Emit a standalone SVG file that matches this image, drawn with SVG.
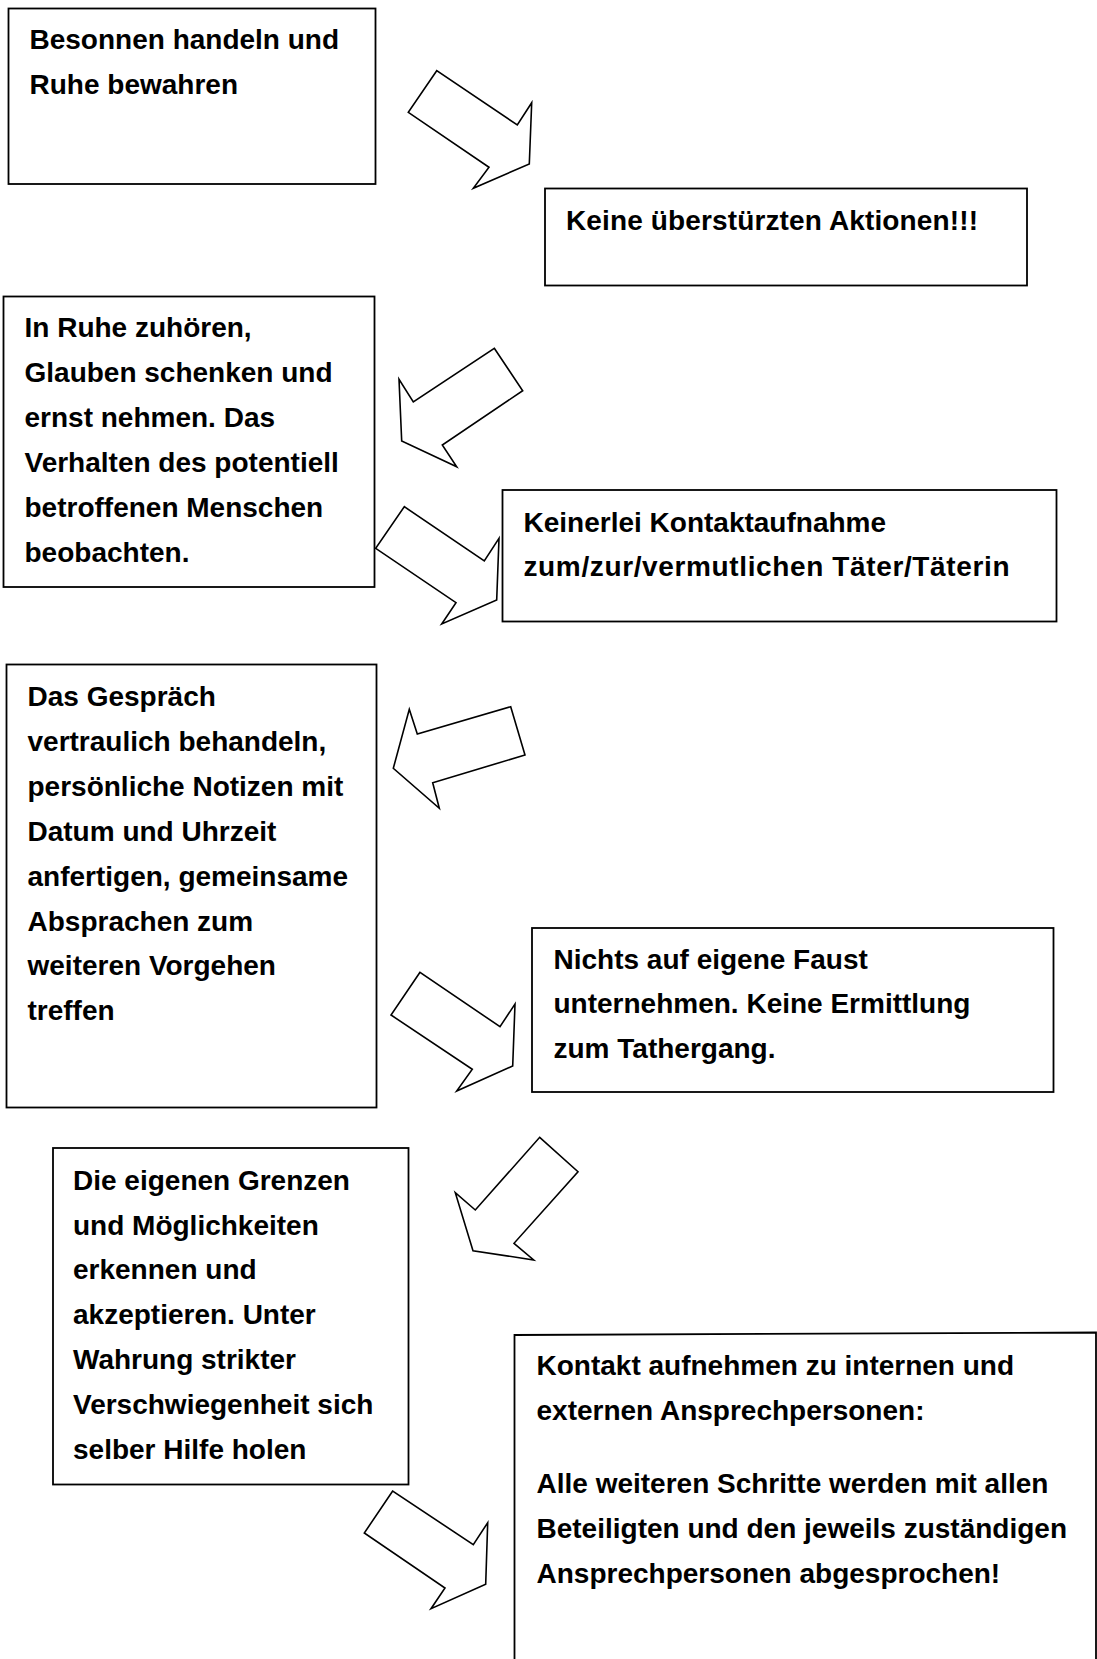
<svg xmlns="http://www.w3.org/2000/svg" width="1097" height="1659" viewBox="0 0 1097 1659">
<style>
.box{fill:#fff;stroke:#000;stroke-width:1.8}
.arr{fill:#fff;stroke:#000;stroke-width:1.6;stroke-linejoin:miter}
text{font-family:"Liberation Sans",Arial,sans-serif;font-weight:bold;font-size:28px;fill:#000}
</style>
<rect width="1097" height="1659" fill="#fff"/>
<g id="node1">
<rect class="box" x="8.5" y="8.5" width="367" height="175.5"/>
<text x="29.5" y="49">Besonnen handeln und</text>
<text x="29.5" y="93.9">Ruhe bewahren</text>
</g>
<g id="node2">
<rect class="box" x="545" y="188.5" width="482" height="97"/>
<text x="566" y="230" textLength="412" lengthAdjust="spacing">Keine überstürzten Aktionen!!!</text>
</g>
<g id="node3">
<rect class="box" x="3.5" y="296.5" width="371" height="290.5"/>
<text x="24.5" y="337">In Ruhe zuhören,</text>
<text x="24.5" y="381.9">Glauben schenken und</text>
<text x="24.5" y="426.8">ernst nehmen. Das</text>
<text x="24.5" y="471.7">Verhalten des potentiell</text>
<text x="24.5" y="516.6">betroffenen Menschen</text>
<text x="24.5" y="561.5">beobachten.</text>
</g>
<g id="node4">
<rect class="box" x="502.5" y="490" width="554" height="131.5"/>
<text x="523.5" y="531.5">Keinerlei Kontaktaufnahme</text>
<text x="523.5" y="576.4" textLength="486" lengthAdjust="spacing">zum/zur/vermutlichen Täter/Täterin</text>
</g>
<g id="node5">
<rect class="box" x="6.5" y="664.5" width="370" height="443"/>
<text x="27.5" y="706">Das Gespräch</text>
<text x="27.5" y="750.9">vertraulich behandeln,</text>
<text x="27.5" y="795.8">persönliche Notizen mit</text>
<text x="27.5" y="840.7">Datum und Uhrzeit</text>
<text x="27.5" y="885.6">anfertigen, gemeinsame</text>
<text x="27.5" y="930.5">Absprachen zum</text>
<text x="27.5" y="975.4">weiteren Vorgehen</text>
<text x="27.5" y="1020.3">treffen</text>
</g>
<g id="node6">
<rect class="box" x="532" y="928" width="521.5" height="164"/>
<text x="553.5" y="968.5">Nichts auf eigene Faust</text>
<text x="553.5" y="1013.4">unternehmen. Keine Ermittlung</text>
<text x="553.5" y="1058.3">zum Tathergang.</text>
</g>
<g id="node7">
<rect class="box" x="53" y="1148" width="355.5" height="336.5"/>
<text x="73" y="1189.6">Die eigenen Grenzen</text>
<text x="73" y="1234.5">und Möglichkeiten</text>
<text x="73" y="1279.4">erkennen und</text>
<text x="73" y="1324.3">akzeptieren. Unter</text>
<text x="73" y="1369.2">Wahrung strikter</text>
<text x="73" y="1414.1">Verschwiegenheit sich</text>
<text x="73" y="1459">selber Hilfe holen</text>
</g>
<g id="node8">
<path class="box" d="M514.5,1665 L514.5,1335 L1096,1332.5 L1096,1665" fill="none"/>
<text x="536.5" y="1374.7">Kontakt aufnehmen zu internen und</text>
<text x="536.5" y="1419.6">externen Ansprechpersonen:</text>
<text x="536.5" y="1493.2">Alle weiteren Schritte werden mit allen</text>
<text x="536.5" y="1538.1">Beteiligten und den jeweils zuständigen</text>
<text x="536.5" y="1583">Ansprechpersonen abgesprochen!</text>
</g>
<g id="connectors">
<polygon class="arr" points="436.7,70.7 408.3,112.3 489,167.3 473.3,188.3 529.3,164 531.7,102.7 517.3,125"/>
<polygon class="arr" points="494.3,348.3 522.7,390.7 442.3,445 456.7,466.7 401.7,441 399,379.3 413.3,402"/>
<polygon class="arr" points="404.3,506.7 375.7,548.3 456,602.7 441.7,624 496.7,600 499,538.3 484.3,561"/>
<polygon class="arr" points="510.7,706.7 525,755 432.7,782.7 439.3,808.3 393.3,768.3 409.3,709.3 417.3,734"/>
<polygon class="arr" points="420,972.3 391,1015 472.3,1069.3 456.7,1091 512.7,1066 515,1004 500,1026.7"/>
<polygon class="arr" points="539.7,1137.3 578,1171.7 514,1243.3 533.7,1260 473,1250.7 455.3,1192.7 475.3,1210"/>
<polygon class="arr" points="392.7,1491 364.3,1533 445,1588 431,1608.7 485.7,1584.3 487.7,1522.7 473.3,1544.7"/>
</g>
</svg>
